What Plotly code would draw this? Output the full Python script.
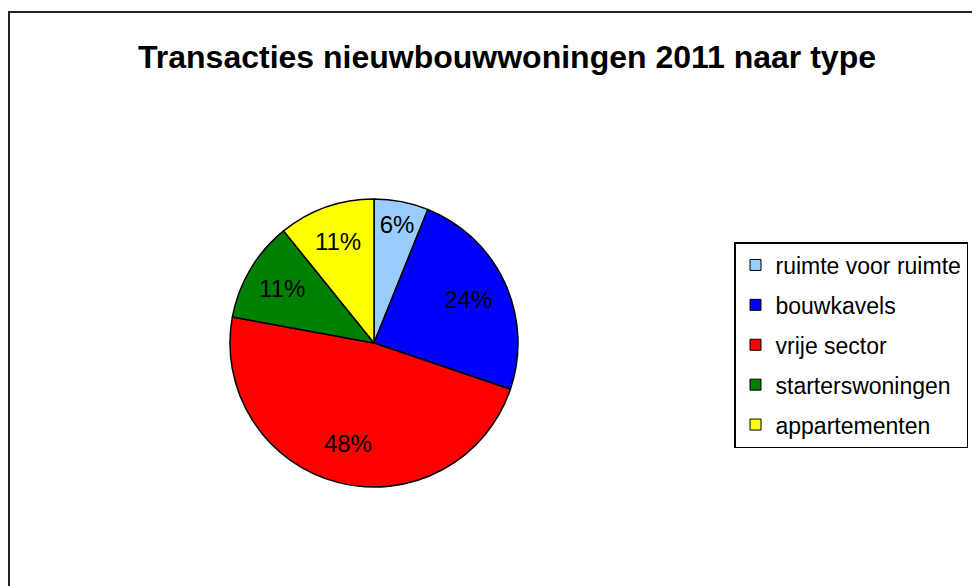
import plotly.graph_objects as go

# ---- data ----
categories = ["ruimte voor ruimte", "bouwkavels", "vrije sector", "starterswoningen", "appartementen"]
shares = [6.1, 24.1, 47.7, 11.3, 10.8]
colors = ["#99CCFF", "#0000FF", "#FF0000", "#008000", "#FFFF00"]
title_text = "Transacties nieuwbouwwoningen 2011 naar type"

FONT = "Liberation Sans, Arial, sans-serif"
OFF = 8  # page body margin
W, H = 980 - OFF, 586 - OFF


def px(x):
    return (x - OFF) / W


def py(y):
    return 1 - (y - OFF) / H


# pie placement (pixels -> paper fractions)
pie_x = [px(230), px(518)]
pie_y = [py(487), py(199)]

fig = go.Figure()

# filled slices
fig.add_trace(go.Pie(
    labels=categories,
    values=shares,
    sort=False,
    direction="clockwise",
    rotation=0,
    marker=dict(colors=colors, line=dict(color="black", width=1.5)),
    textinfo="none",
    hoverinfo="skip",
    showlegend=False,
    domain=dict(x=pie_x, y=pie_y),
))

# transparent ring carrying the percentage labels (places them at ~0.72 R)
fig.add_trace(go.Pie(
    labels=categories,
    values=shares,
    sort=False,
    direction="clockwise",
    rotation=0,
    hole=0.44,
    marker=dict(colors=["rgba(0,0,0,0)"] * len(shares), line=dict(width=0)),
    texttemplate="%{percent:.0%}",
    textposition="inside",
    insidetextorientation="horizontal",
    textfont=dict(family=FONT, size=24, color="black"),
    hoverinfo="label+percent",
    showlegend=False,
    domain=dict(x=pie_x, y=pie_y),
))

# legend entries
for name, c in zip(categories, colors):
    fig.add_trace(go.Scatter(
        x=[None], y=[None], mode="markers", name=name,
        legendgroup=name,
        marker=dict(symbol="square", size=11, color=c, line=dict(color="black", width=1)),
        xaxis="x", yaxis="y",
    ))

fig.update_layout(
    width=W, height=H,
    margin=dict(l=0, r=0, t=0, b=0),
    paper_bgcolor="white",
    plot_bgcolor="white",
    title=dict(
        text=f"<b>{title_text}</b>",
        font=dict(family=FONT, size=32, color="black"),
        x=px(507), xanchor="center",
        y=py(57), yanchor="middle",
    ),
    xaxis=dict(visible=False, domain=[0, 0.01]),
    yaxis=dict(visible=False, domain=[0, 0.01]),
    showlegend=True,
    legend=dict(
        x=px(734), xanchor="left",
        y=py(242), yanchor="top",
        bordercolor="black", borderwidth=1.5,
        bgcolor="white",
        font=dict(family=FONT, size=23, color="black"),
        tracegroupgap=7,
        itemwidth=30,
    ),
    shapes=[dict(
        type="rect", xref="paper", yref="paper",
        x0=px(9), x1=1.05, y0=-0.05, y1=py(12),
        line=dict(color="#222222", width=2), fillcolor="rgba(0,0,0,0)",
        layer="below",
    )],
)

fig.write_html("out.html")
